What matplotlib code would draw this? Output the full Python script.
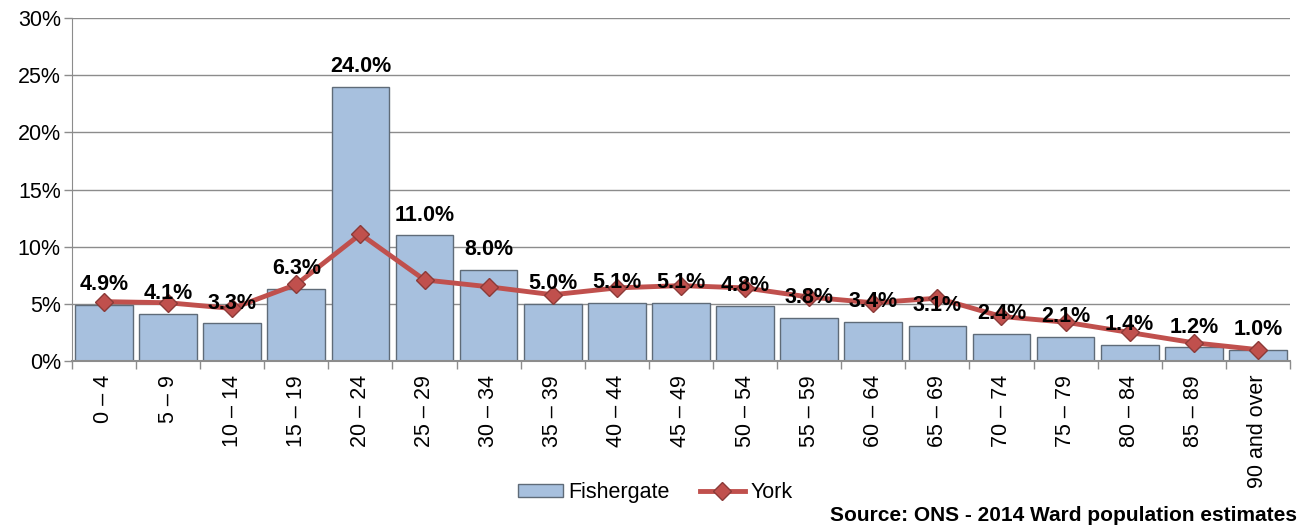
import matplotlib
matplotlib.use("Agg")
import matplotlib.pyplot as plt
from matplotlib.ticker import FuncFormatter, FixedLocator
import numpy as np

plt.rcParams["font.family"] = ["Liberation Sans", "DejaVu Sans"]

AGE_BANDS = ["0 \u2013 4", "5 \u2013 9", "10 \u2013 14", "15 \u2013 19", "20 \u2013 24",
             "25 \u2013 29", "30 \u2013 34", "35 \u2013 39", "40 \u2013 44", "45 \u2013 49",
             "50 \u2013 54", "55 \u2013 59", "60 \u2013 64", "65 \u2013 69", "70 \u2013 74",
             "75 \u2013 79", "80 \u2013 84", "85 \u2013 89", "90 and over"]
FISHERGATE = [4.9, 4.1, 3.3, 6.3, 24.0, 11.0, 8.0, 5.0, 5.1, 5.1,
              4.8, 3.8, 3.4, 3.1, 2.4, 2.1, 1.4, 1.2, 1.0]
YORK = [5.2, 5.1, 4.6, 6.7, 11.1, 7.1, 6.5, 5.8, 6.4, 6.6,
        6.4, 5.6, 5.1, 5.5, 3.9, 3.4, 2.5, 1.6, 1.0]
Y_TICKS = [0, 5, 10, 15, 20, 25, 30]

BAR_COL = "#A7C0DE"
BAR_EDGE = "#5F6B78"
LINE_COL = "#C0504D"
GRID_COL = "#8C8C8C"

fig = plt.figure(figsize=(13.01, 5.31), dpi=100)
ax = fig.add_axes([0.0553, 0.320, 0.9362, 0.646])

x = np.arange(len(AGE_BANDS))
bar_h = ax.bar(x, FISHERGATE, width=0.9, color=BAR_COL, edgecolor=BAR_EDGE,
               linewidth=1.0, label="Fishergate", zorder=2)
(line_h,) = ax.plot(x, YORK, color=LINE_COL, lw=3.5, marker="D", ms=9,
                    markerfacecolor=LINE_COL, markeredgecolor="#8B3A38",
                    markeredgewidth=1.0, label="York", zorder=3)

for xi, v in zip(x, FISHERGATE):
    ax.annotate(f"{v:.1f}%", (xi, v), xytext=(0, 7), textcoords="offset points",
                ha="center", va="bottom", fontsize=15.5, fontweight="bold", zorder=4)

ax.set_xlim(-0.5, len(AGE_BANDS) - 0.5)
ax.set_ylim(0, 30)
ax.set_yticks(Y_TICKS)
ax.yaxis.set_major_formatter(FuncFormatter(lambda v, _: f"{v:.0f}%"))
ax.grid(axis="y", color=GRID_COL, lw=1.0, zorder=0)
ax.set_axisbelow(True)

ax.set_xticks(x)
ax.set_xticklabels(AGE_BANDS, rotation=90, fontsize=15.5)
ax.tick_params(axis="x", length=0, pad=10)
ax.xaxis.set_minor_locator(FixedLocator(np.arange(-0.5, len(AGE_BANDS), 1.0)))
ax.tick_params(axis="x", which="minor", length=6, color=GRID_COL, width=1)
ax.tick_params(axis="y", labelsize=15.5, length=6, color=GRID_COL, width=1, pad=2)

for side in ("top", "right"):
    ax.spines[side].set_visible(False)
ax.spines["left"].set_color(GRID_COL)
ax.spines["bottom"].set_color(GRID_COL)
ax.spines["bottom"].set_linewidth(1.5)

fig.legend([bar_h, line_h], ["Fishergate", "York"], loc="center",
           bbox_to_anchor=(0.5035, 0.072), ncol=2, frameon=False, fontsize=15.5,
           handlelength=2.1, handleheight=0.5, handletextpad=0.25, columnspacing=1.4,
           borderpad=0.2)

fig.text(0.997, 0.03, "Source: ONS - 2014 Ward population estimates", ha="right",
         va="center", fontsize=15, fontweight="bold")

fig.savefig("out.png", dpi=100)
